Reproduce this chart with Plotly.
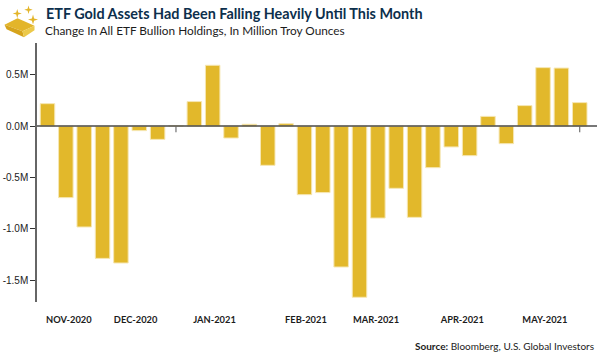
import plotly.graph_objects as go

W, H = 600, 356
PL, PR, PT, PB = 36.5, 597, 42.7, 301.7

week_index = list(range(30))
holdings_change = [0.219, -0.697, -0.983, -1.289, -1.334, -0.044, -0.129, 0.005, 0.239, 0.593,
                   -0.116, 0.018, -0.382, 0.024, -0.668, -0.648, -1.373, -1.668, -0.896, -0.606,
                   -0.889, -0.405, -0.203, -0.288, 0.095, -0.171, 0.2, 0.57, 0.566, 0.229]
month_labels = ["NOV-2020", "DEC-2020", "JAN-2021", "FEB-2021", "MAR-2021", "APR-2021", "MAY-2021"]
month_positions = [1.16, 4.8, 9.1, 14.08, 17.9, 22.6, 27.1]
y_tick_values = [0.5, 0, -0.5, -1.0, -1.5]
y_tick_labels = ["0.5M", "0.0M", "-0.5M", "-1.0M", "-1.5M"]
visible_x_ticks = [7, 29]

GOLD = "#e2b82b"
INK = "#1c1c1c"
NAVY = "#0c2f4c"


def px(x):
    return (x - PL) / (PR - PL)


def py(y):
    return (PB - y) / (PB - PT)


def poly(points, color):
    d = "M" + " L".join(f"{px(a):.4f},{py(b):.4f}" for a, b in points) + " Z"
    return dict(type="path", xref="paper", yref="paper", path=d,
                fillcolor=color, line=dict(width=0), layer="above")


def star(cx, cy, r):
    q = r * 0.22
    return poly([(cx, cy - r), (cx + q, cy - q), (cx + r, cy), (cx + q, cy + q),
                 (cx, cy + r), (cx - q, cy + q), (cx - r, cy), (cx - q, cy - q)], "#e3b52a")


fig = go.Figure(go.Bar(
    x=week_index, y=holdings_change, width=0.79,
    marker=dict(color=GOLD, line=dict(color="#f6e7b4", width=1)),
    hoverinfo="skip",
))

shapes = [
    dict(type="line", xref="x domain", yref="y", x0=0, x1=1, y0=0, y1=0,
         line=dict(color="#4a4a4a", width=1.5), layer="above"),
]
for t in visible_x_ticks:
    shapes.append(dict(type="line", xref="x", yref="y", x0=t, x1=t, y0=0, y1=-0.06,
                       line=dict(color="#555555", width=1), layer="below"))
shapes += [
    poly([(4, 24.5), (17, 18), (34, 25.5), (22, 31)], "#e3b52a"),
    poly([(4, 24.5), (22, 31), (23.5, 37), (6, 29)], "#d6a41c"),
    poly([(22, 31), (34, 25.5), (34, 30), (23.5, 37)], "#ecc94a"),
    star(16.7, 13.3, 4.6), star(28, 9.5, 4.2), star(32.5, 19.3, 5),
]

fig.update_layout(
    width=W, height=H,
    autosize=False,
    margin=dict(l=PL, r=W - PR, t=PT, b=H - PB, pad=0),
    paper_bgcolor="white", plot_bgcolor="white",
    showlegend=False,
    shapes=shapes,
    xaxis=dict(range=[-0.572, 29.94], tickmode="array", tickvals=month_positions,
               ticktext=month_labels, ticks="", showgrid=False, zeroline=False, showline=False,
               ticklabelstandoff=11, tickangle=0, automargin=False,
               tickfont=dict(family="Lato", size=9.3, color=INK, weight=700)),
    yaxis=dict(range=[-1.714, 0.81], tickmode="array", tickvals=y_tick_values,
               ticktext=y_tick_labels, ticks="outside", ticklen=5, tickwidth=1, tickcolor="#333333",
               showgrid=False, zeroline=False, showline=True, linecolor="#666666", linewidth=1.5,
               automargin=False,
               tickfont=dict(family="Liberation Sans", size=10, color=INK)),
    annotations=[
        dict(text="<b>ETF Gold Assets Had Been Falling Heavily Until This Month</b>",
             xref="paper", yref="paper", x=px(44), y=py(13.5), xanchor="left", yanchor="middle",
             showarrow=False, font=dict(family="Lato", size=14.4, color=NAVY)),
        dict(text="Change In All ETF Bullion Holdings, In Million Troy Ounces",
             xref="paper", yref="paper", x=px(43), y=py(30), xanchor="left", yanchor="middle",
             showarrow=False, font=dict(family="Lato", size=11.8, color=INK)),
        dict(text="<b>Source:</b> Bloomberg, U.S. Global Investors",
             xref="paper", yref="paper", x=px(595.5), y=py(346), xanchor="right", yanchor="middle",
             showarrow=False, font=dict(family="Lato", size=10, color=INK)),
    ],
)

fig.write_html("out.html", config=dict(displayModeBar=False),
               post_script="document.body.style.margin='0';")
